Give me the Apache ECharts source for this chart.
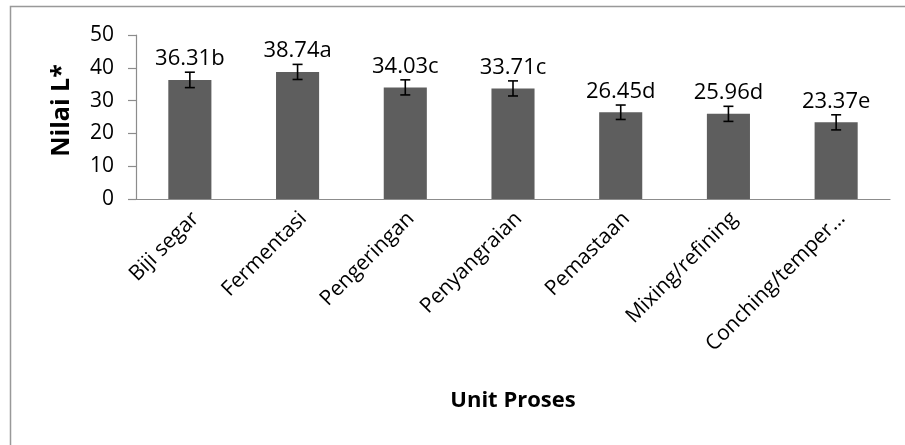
<!DOCTYPE html>
<html>
<head>
<meta charset="utf-8">
<script src="https://cdn.jsdelivr.net/npm/echarts@6/dist/echarts.min.js"></script>
<style>
html,body{margin:0;padding:0;background:#fff;}
#chart{width:905px;height:445px;}
</style>
</head>
<body>
<div id="chart"></div>
<script>
const categories = ["Biji segar", "Fermentasi", "Pengeringan", "Penyangraian", "Pemastaan", "Mixing/refining", "Conching/temper…"];
const values = [36.31, 38.74, 34.03, 33.71, 26.45, 25.96, 23.37];
const errors = [2.35, 2.3, 2.3, 2.3, 2.2, 2.3, 2.3];
const letters = ["b", "a", "c", "c", "d", "d", "e"];
const yTicks = [0, 10, 20, 30, 40, 50];

const chart = echarts.init(document.getElementById('chart'));
const FONT = 'Open Sans';

const errData = values.map((v, i) => [i, v - errors[i], v + errors[i]]);

chart.setOption({
  animation: false,
  backgroundColor: '#fff',
  graphic: [{
    type: 'rect',
    shape: { x: 10.5, y: 6.5, width: 1000, height: 1000 },
    style: { fill: 'none', stroke: '#999', lineWidth: 1.5 },
    silent: true
  }],
  grid: { left: 136, right: 15, top: 35, bottom: 246, containLabel: false },
  xAxis: {
    type: 'category',
    data: categories,
    name: 'Unit Proses',
    nameLocation: 'middle',
    nameGap: 191,
    nameTextStyle: { fontFamily: FONT, fontWeight: 'bold', fontSize: 22, color: '#000' },
    axisLine: { lineStyle: { color: '#8c8c8c', width: 1.2 } },
    axisTick: { show: false },
    axisLabel: { rotate: 45, interval: 0, margin: 22, fontFamily: FONT, fontSize: 21, color: '#000', padding: [0, -8, 0, 0] }
  },
  yAxis: {
    type: 'value',
    min: yTicks[0],
    max: yTicks[yTicks.length - 1],
    interval: 10,
    name: 'Nilai L*',
    nameLocation: 'middle',
    nameGap: 62,
    nameTextStyle: { fontFamily: FONT, fontWeight: 'bold', fontSize: 25, color: '#000', padding: [0, 0, 0, 13] },
    axisLine: { show: true, lineStyle: { color: '#8c8c8c', width: 1.2 } },
    axisTick: { show: true, inside: false, length: 8, lineStyle: { color: '#8c8c8c', width: 1.2 } },
    axisLabel: { margin: 22, fontFamily: FONT, fontSize: 21, color: '#000' },
    splitLine: { show: false }
  },
  series: [
    {
      type: 'bar',
      data: values,
      barWidth: '40%',
      itemStyle: { color: '#5e5e5e' },
      label: {
        show: true,
        position: 'top',
        distance: 10,
        fontFamily: FONT,
        fontSize: 22,
        color: '#000',
        formatter: p => p.value.toFixed(2) + letters[p.dataIndex]
      },
      z: 2
    },
    {
      type: 'custom',
      data: errData,
      z: 3,
      renderItem: function (params, api) {
        const x = api.value(0);
        const lo = api.coord([x, api.value(1)]);
        const hi = api.coord([x, api.value(2)]);
        const hw = 5;
        const st = { stroke: '#000', lineWidth: 1.6 };
        return {
          type: 'group',
          children: [
            { type: 'line', shape: { x1: hi[0], y1: hi[1], x2: lo[0], y2: lo[1] }, style: st },
            { type: 'line', shape: { x1: hi[0] - hw, y1: hi[1], x2: hi[0] + hw, y2: hi[1] }, style: st },
            { type: 'line', shape: { x1: lo[0] - hw, y1: lo[1], x2: lo[0] + hw, y2: lo[1] }, style: st }
          ]
        };
      }
    }
  ]
});
</script>
</body>
</html>
